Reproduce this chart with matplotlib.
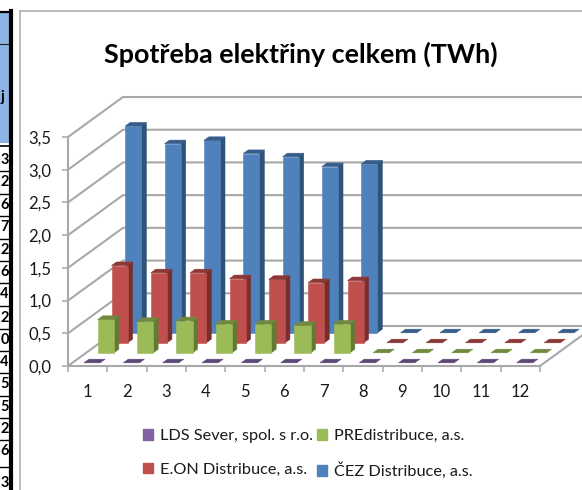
import matplotlib
matplotlib.use("Agg")
import matplotlib.pyplot as plt
from matplotlib.patches import Patch, Polygon

plt.rcParams["font.family"] = ["Lato", "DejaVu Sans"]

# Data
months = ["1", "2", "3", "4", "5", "6", "7", "8", "9", "10", "11", "12"]
y_ticks = [0.0, 0.5, 1.0, 1.5, 2.0, 2.5, 3.0, 3.5]

lds = [0, 0, 0, 0, 0, 0, 0, 0, 0, 0, 0, 0]
pre = [0.51, 0.48, 0.49, 0.44, 0.44, 0.42, 0.44, 0, 0, 0, 0, 0]
eon = [1.18, 1.07, 1.07, 0.98, 0.97, 0.92, 0.95, 0, 0, 0, 0, 0]
cez = [3.16, 2.89, 2.94, 2.74, 2.69, 2.54, 2.58, 0, 0, 0, 0, 0]

names = ["LDS Sever, spol. s r.o.", "E.ON Distribuce, a.s.", "PREdistribuce, a.s.", "ČEZ Distribuce, a.s."]

# Clipped table on the left of the sheet
table_digits = ["3", "2", "6", "7", "2", "6", "4", "2", "0", "4", "5", "5", "2", "6", "3"]
table_y = [160, 182, 205, 227, 250, 272, 294, 318, 340, 362, 384, 407, 429, 451, 483]

# Settings (pixels)
W, H = 582, 490
LEFT, RIGHT, BOTTOM, TOP = 68, 540, 366, 137
DEPTH_PX_X, DEPTH_PX_Y = 55, 40
GRID = "#a8a8a8"

fig = plt.figure(figsize=(W / 100, H / 100), dpi=100, facecolor="white")

# Sheet background, table cut off at the left and chart frame
bg = fig.add_axes([0, 0, 1, 1])
bg.set_xlim(0, W)
bg.set_ylim(H, 0)
bg.axis("off")
bg.fill_between([0, 10], 12, 143, color="#8db4e2", lw=0)
bg.plot([0, 10], [44, 44], color="#222222", lw=0.8)
bg.plot([0, 11], [12, 12], color="black", lw=1.6)
bg.plot([0, 10], [146, 146], color="black", lw=1.2)
bg.plot([11, 11], [11, H], color="black", lw=3)
bg.text(2, 97, "j", fontsize=10.5, fontweight="bold", ha="center", va="center")
for i in range(len(table_digits)):
    bg.text(8.8, table_y[i], table_digits[i], fontsize=10.5, fontweight="bold", ha="right", va="center")
    if i < len(table_digits) - 1:
        bg.plot([0, 10], [(table_y[i] + table_y[i + 1]) / 2] * 2, color="black", lw=1)
bg.plot([20, 20], [11, H], color="#b0b0b0", lw=1.2)
bg.plot([20, W], [11, 11], color="#b0b0b0", lw=1.2)

# Chart axes: front plane of the 3D box
ax = fig.add_axes([LEFT / W, (H - BOTTOM) / H, (RIGHT - LEFT) / W, (BOTTOM - TOP) / H])
ax.set_facecolor("none")
ax.set_xlim(0, 12)
ax.set_ylim(0, 3.5)

# how far one unit of depth shifts things, in data units
dx = DEPTH_PX_X / (RIGHT - LEFT) * 12
dy = DEPTH_PX_Y / (BOTTOM - TOP) * 3.5


def project(x, d, v):
    return (x + d * dx, v + d * dy)


# Walls
for v in y_ticks:
    ax.plot([0, dx, 12 + dx], [v, v + dy, v + dy], color=GRID, lw=1.5, clip_on=False, zorder=1)
ax.plot([12, 12 + dx], [0, dy], color=GRID, lw=1.5, clip_on=False, zorder=1)


def draw_bar(x, d, v, front, side, top):
    w = 0.205
    h = 0.045
    x0, x1 = x - w, x + w
    d0, d1 = d - h, d + h
    if v > 0:
        ax.add_patch(Polygon([project(x1, d0, 0), project(x1, d1, 0), project(x1, d1, v), project(x1, d0, v)],
                             fc=side, ec=side, lw=0.4, clip_on=False, zorder=3))
        ax.add_patch(Polygon([project(x0, d0, 0), project(x1, d0, 0), project(x1, d0, v), project(x0, d0, v)],
                             fc=front, ec=front, lw=0.4, clip_on=False, zorder=3))
    ax.add_patch(Polygon([project(x0, d0, v), project(x1, d0, v), project(x1, d1, v), project(x0, d1, v)],
                         fc=top, ec=top, lw=0.4, clip_on=False, zorder=3))


# Back row first so the front rows sit on top
rows = [
    (cez, 0.875, "#4f81bd", "#2f5278", "#385d8a"),
    (eon, 0.625, "#c0504d", "#772f2d", "#8c3836"),
    (pre, 0.375, "#9bbb59", "#637a33", "#71893f"),
    (lds, 0.125, "#8064a2", "#4f3d66", "#5c4776"),
]
for values, depth, front, side, top in rows:
    for i in range(len(values)):
        draw_bar(i + 0.5, depth, values[i], front, side, top)

# Axes, ticks
for s in ["top", "right"]:
    ax.spines[s].set_visible(False)
for s in ["left", "bottom"]:
    ax.spines[s].set_color(GRID)
    ax.spines[s].set_linewidth(1.5)
    ax.spines[s].set_zorder(2)

ax.set_yticks(y_ticks)
ax.set_yticklabels([f"{v:.1f}".replace(".", ",") for v in y_ticks], fontsize=12, color="#1a1a1a")
ax.tick_params(axis="y", length=4, width=1.1, color=GRID, pad=8)
ax.set_xticks(range(13))
ax.set_xticklabels([])
ax.tick_params(axis="x", length=4, width=1.1, color=GRID)
ax.set_xticks([i + 0.5 for i in range(12)], minor=True)
ax.set_xticklabels(months, minor=True, fontsize=12, color="#1a1a1a")
ax.tick_params(axis="x", which="minor", length=0, pad=13)

# Title + legend
fig.text(301 / W, 1 - 54 / H, "Spotřeba elektřiny celkem (TWh)", fontsize=19.4, fontweight="bold",
         ha="center", va="center", color="black")

handles = [Patch(color="#8064a2"), Patch(color="#c0504d"), Patch(color="#9bbb59"), Patch(color="#4f81bd")]
fig.legend(handles, names, ncol=2, frameon=False, fontsize=11.7, loc="upper left",
           bbox_to_anchor=(143 / W, 1 - 429 / H), borderpad=0, borderaxespad=0,
           handlelength=0.62, handleheight=0.62, handletextpad=0.42, labelspacing=1.2,
           columnspacing=0.25, labelcolor="#1a1a1a")

fig.savefig("out.png", dpi=100)
